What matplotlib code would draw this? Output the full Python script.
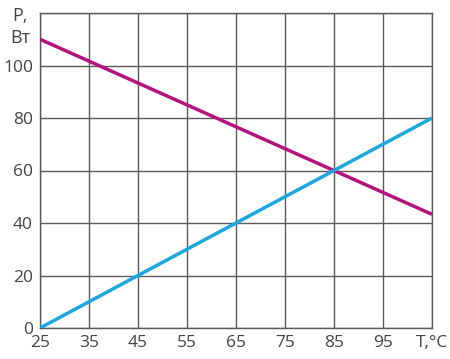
import matplotlib.pyplot as plt

plt.rcParams['font.family'] = ['Open Sans', 'DejaVu Sans']

# данные
temp = [25, 105]
p_red = [110, 43.3]
p_blue = [0, 80]
xticks = [25, 35, 45, 55, 65, 75, 85, 95, 105]
xlabels = ['25', '35', '45', '55', '65', '75', '85', '95', '']
yticks = [0, 20, 40, 60, 80, 100, 120]
ylabels = ['0', '20', '40', '60', '80', '100', '']

fig = plt.figure(figsize=(4.5, 3.59), dpi=100)
ax = fig.add_axes([40/450, 1 - 328/359, 392/450, 315/359])

ax.plot(temp, p_red, color='#b5127f', lw=2.5, solid_capstyle='butt', zorder=3)
ax.plot(temp, p_blue, color='#1ba6df', lw=2.5, solid_capstyle='butt', zorder=3)

ax.set_xlim(25, 105)
ax.set_ylim(0, 120)
ax.set_xticks(xticks)
ax.set_xticklabels(xlabels)
ax.set_yticks(yticks)
ax.set_yticklabels(ylabels)
ax.grid(True, color='#5a5a5a', lw=1.0)
ax.tick_params(length=0, labelsize=12.5, labelcolor='#444444', pad=5)
for s in ax.spines.values():
    s.set_color('#5a5a5a')
    s.set_linewidth(1.0)

fig.text(20/450, 1 - 16/359, 'P,', fontsize=13, color='#444444', ha='center', va='center')
fig.text(20/450, 1 - 38/359, 'Вт', fontsize=13, color='#444444', ha='center', va='center')
fig.text(432/450, 1 - 343/359, 'T,°C', fontsize=12.5, color='#444444', ha='center', va='center')

fig.savefig('out.png', dpi=100, facecolor='white')
